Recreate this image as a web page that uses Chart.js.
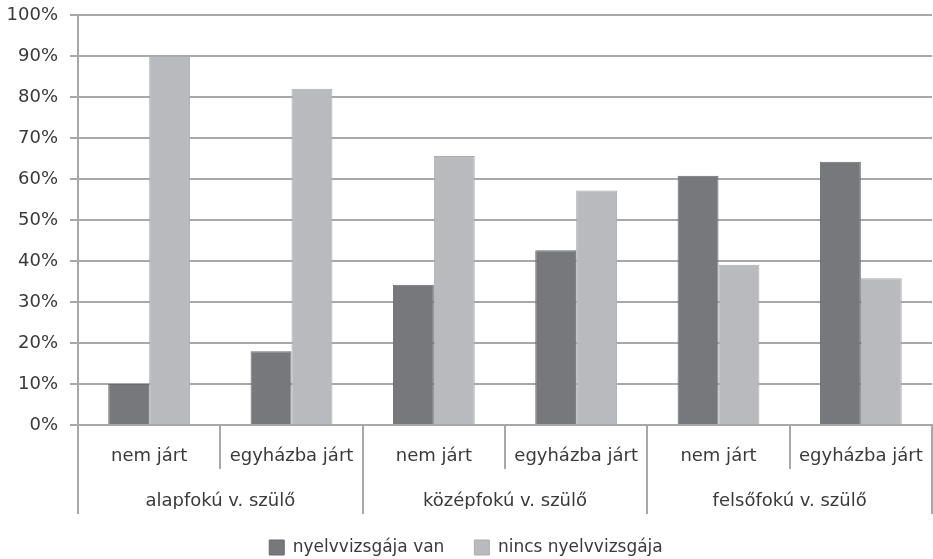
<!DOCTYPE html>
<html>
<head>
<meta charset="utf-8">
<script src="https://cdn.jsdelivr.net/npm/chart.js@4"></script>
<style>
  html, body { margin: 0; padding: 0; background: #fff; }
  #wrap { width: 933px; height: 559px; }
</style>
</head>
<body>
<div id="wrap"><canvas id="chart"></canvas></div>
<script>
const subCategories = ["nem járt", "egyházba járt", "nem járt", "egyházba járt", "nem járt", "egyházba járt"];
const parentGroups = ["alapfokú v. szülő", "középfokú v. szülő", "felsőfokú v. szülő"];
const seriesNames = ["nyelvvizsgája van", "nincs nyelvvizsgája"];
const withExam = [10, 18, 34.2, 42.6, 60.8, 64.2];
const withoutExam = [90, 82, 65.6, 57.2, 39.1, 35.8];
const yTicks = [0, 10, 20, 30, 40, 50, 60, 70, 80, 90, 100];

const gridColor = "#a8a8a8";
const textColor = "#3a3a3a";
const labelFont = { family: "DejaVu Sans", size: 18 };

window.onload = function () {
  const ctx = document.getElementById("chart").getContext("2d");
  new Chart(ctx, {
    type: "bar",
    data: {
      labels: subCategories,
      datasets: [
        {
          label: seriesNames[0],
          data: withExam,
          backgroundColor: "#77787c",
          borderColor: "#6b6c70",
          borderWidth: 1
        },
        {
          label: seriesNames[1],
          data: withoutExam,
          backgroundColor: "#b9babd",
          borderColor: "#abacaf",
          borderWidth: 1
        }
      ]
    },
    options: {
      responsive: true,
      maintainAspectRatio: false,
      animation: false,
      datasets: { bar: { categoryPercentage: 0.575, barPercentage: 1 } },
      layout: { padding: { top: 15, right: 1, left: 0, bottom: 0 } },
      plugins: {
        tooltip: { enabled: false },
        legend: {
          position: "bottom",
          maxHeight: 50,
          labels: {
            boxWidth: 15,
            boxHeight: 15,
            padding: 30,
            color: textColor,
            font: { family: "DejaVu Sans", size: 17 }
          }
        }
      },
      scales: {
        x: {
          grid: { drawOnChartArea: false, offset: true, tickLength: 44, color: gridColor, lineWidth: 2 },
          border: { display: true, color: gridColor, width: 2 },
          ticks: { padding: -23, color: textColor, font: labelFont, maxRotation: 0, autoSkip: false },
          afterFit: function (scale) { scale.height = 43; }
        },
        x2: {
          type: "category",
          labels: parentGroups,
          position: "bottom",
          offset: true,
          grid: { drawOnChartArea: false, offset: true, tickLength: 46, color: gridColor, lineWidth: 2 },
          border: { display: false },
          ticks: { padding: -23, color: textColor, font: labelFont, maxRotation: 0, autoSkip: false },
          afterFit: function (scale) { scale.height = 41; }
        },
        y: {
          min: 0,
          max: 100,
          afterBuildTicks: function (scale) { scale.ticks = yTicks.map(v => ({ value: v })); },
          afterFit: function (scale) {
            scale.width = 78;
            scale.paddingTop = 0;
            scale.paddingBottom = 0;
          },
          grid: { color: gridColor, lineWidth: 2, tickLength: 8 },
          border: { display: true, color: gridColor, width: 2 },
          ticks: {
            padding: 12,
            color: textColor,
            font: labelFont,
            callback: function (v) { return v + "%"; }
          }
        }
      }
    }
  });
};
</script>
</body>
</html>
